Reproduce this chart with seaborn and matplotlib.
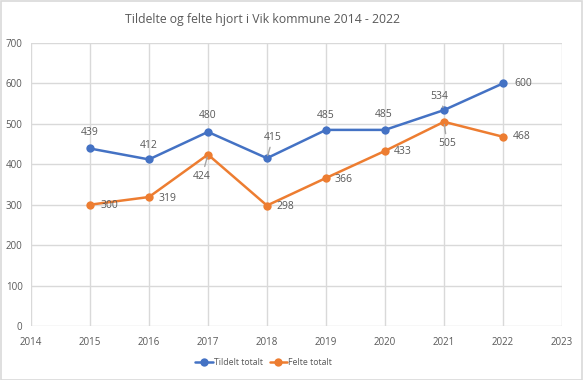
import matplotlib
matplotlib.use("Agg")
import matplotlib.pyplot as plt
import seaborn as sns
import pandas as pd
from matplotlib.patches import Rectangle

# data
years = [2015, 2016, 2017, 2018, 2019, 2020, 2021, 2022]
tildelt = [439, 412, 480, 415, 485, 485, 534, 600]
felte = [300, 319, 424, 298, 366, 433, 505, 468]
series_names = ["Tildelt totalt", "Felte totalt"]
colors = ["#4472C4", "#ED7D31"]

# label offsets in pixels (dx, dy) and whether to draw a leader line
blue_offsets = [(0, 16), (0, 14), (0, 16), (6, 21), (0, 14), (-1, 15), (-5, 14), (20, 0)]
blue_leader = [False, False, False, True, False, False, True, False]
orange_offsets = [(19, -1), (19, -1), (-6, -22), (18, -1), (18, -1), (18, -1), (3, -22), (19, 0)]
orange_leader = [False, False, True, False, False, False, True, False]

df = pd.DataFrame({
    "year": years * 2,
    "value": tildelt + felte,
    "serie": [series_names[0]] * len(years) + [series_names[1]] * len(years),
})

sns.set_style("white")
plt.rcParams["font.family"] = ["Open Sans", "DejaVu Sans"]
text_col = "#595959"
grid_col = "#D9D9D9"

fig = plt.figure(figsize=(5.83, 3.80), dpi=100)
ax = fig.add_axes([0.053, 0.142, 0.911, 0.745])

sns.lineplot(
    data=df, x="year", y="value", hue="serie", palette=colors,
    marker="o", markersize=6, markeredgewidth=0, linewidth=1.8,
    ax=ax, legend=True,
)

ax.set_xlim(2014, 2023)
ax.set_ylim(0, 700)
ax.set_xticks(range(2014, 2024))
ax.set_yticks(range(0, 701, 100))
ax.grid(True, color=grid_col, linewidth=1)
ax.set_axisbelow(True)
for s in ax.spines.values():
    s.set_visible(False)
ax.tick_params(length=0, labelsize=7, colors=text_col)
ax.tick_params(axis="x", pad=8)
ax.tick_params(axis="y", pad=6)
ax.set_xlabel("")
ax.set_ylabel("")

def add_labels(vals, offsets, leaders):
    for x, y, (dx, dy), lead in zip(years, vals, offsets, leaders):
        kw = {}
        if lead:
            kw["arrowprops"] = dict(arrowstyle="-", color="#A6A6A6", lw=1,
                                    shrinkA=1, shrinkB=2)
        ax.annotate(str(y), (x, y), xytext=(dx, dy), textcoords="offset pixels",
                    ha="center", va="center", fontsize=7.5, color=text_col,
                    zorder=5, **kw)

add_labels(tildelt, blue_offsets, blue_leader)
add_labels(felte, orange_offsets, orange_leader)

fig.suptitle("Tildelte og felte hjort i Vik kommune 2014 - 2022",
             x=0.45, y=0.965, fontsize=8.8, color=text_col)

handles, labels = ax.get_legend_handles_labels()
ax.legend(handles, labels, loc="center", bbox_to_anchor=(0.452, 0.047),
          bbox_transform=fig.transFigure, ncol=2, frameon=False,
          fontsize=6.3, labelcolor=text_col, handlelength=2.0,
          handletextpad=0.1, columnspacing=0.8)

fig.add_artist(Rectangle((0.001, 0.001), 0.997, 0.996, transform=fig.transFigure,
                         fill=False, edgecolor="#D9D9D9", linewidth=1.2))

fig.savefig("out.png", dpi=100, facecolor="white")
